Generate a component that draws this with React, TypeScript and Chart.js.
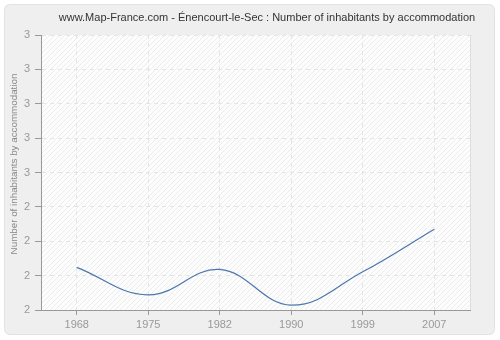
import React, { useEffect, useRef } from "react";
import { Chart, registerables } from "chart.js";

Chart.register(...registerables);

const years = ["1968", "1975", "1982", "1990", "1999", "2007"];
const inhabitants = [2.224, 2.144, 2.218, 2.114, 2.211, 2.335];
const yTickLabels = ["2", "2", "2", "2", "3", "3", "3", "3", "3"];
const titleText = "www.Map-France.com - Énencourt-le-Sec : Number of inhabitants by accommodation";
const yAxisTitle = "Number of inhabitants by accommodation";

const FONT = "'Liberation Sans', Arial, sans-serif";

function makePattern(ctx: CanvasRenderingContext2D) {
  const c = document.createElement("canvas");
  c.width = 5;
  c.height = 5;
  const p = c.getContext("2d")!;
  p.fillStyle = "#fdfdfd";
  p.fillRect(0, 0, 5, 5);
  p.strokeStyle = "#ececec";
  p.lineWidth = 1;
  p.beginPath();
  p.moveTo(0, 5);
  p.lineTo(5, 0);
  p.moveTo(-2.5, 2.5);
  p.lineTo(2.5, -2.5);
  p.moveTo(2.5, 7.5);
  p.lineTo(7.5, 2.5);
  p.stroke();
  return ctx.createPattern(c, "repeat");
}

const decor = {
  id: "decor",
  beforeDraw(chart: any) {
    const { ctx, chartArea: a } = chart;
    ctx.save();
    ctx.fillStyle = "#ffffff";
    ctx.fillRect(0, 0, chart.width, chart.height);
    const x = 4.5, y = 4.5, w = 490, h = 330, r = 6;
    ctx.beginPath();
    ctx.moveTo(x + r, y);
    ctx.lineTo(x + w - r, y);
    ctx.quadraticCurveTo(x + w, y, x + w, y + r);
    ctx.lineTo(x + w, y + h - r);
    ctx.quadraticCurveTo(x + w, y + h, x + w - r, y + h);
    ctx.lineTo(x + r, y + h);
    ctx.quadraticCurveTo(x, y + h, x, y + h - r);
    ctx.lineTo(x, y + r);
    ctx.quadraticCurveTo(x, y, x + r, y);
    ctx.closePath();
    ctx.fillStyle = "#efefef";
    ctx.fill();
    ctx.strokeStyle = "#e2e2e2";
    ctx.lineWidth = 1;
    ctx.stroke();
    const pat = makePattern(ctx);
    ctx.fillStyle = pat || "#fcfcfc";
    ctx.fillRect(a.left, a.top, a.right - a.left, a.bottom - a.top);
    ctx.strokeStyle = "#dddddd";
    ctx.beginPath();
    ctx.moveTo(a.right + 0.5, a.top);
    ctx.lineTo(a.right + 0.5, a.bottom);
    ctx.stroke();
    ctx.restore();
  },
  afterDraw(chart: any) {
    const { ctx } = chart;
    ctx.save();
    ctx.fillStyle = "#333333";
    ctx.font = `11px ${FONT}`;
    ctx.textAlign = "center";
    ctx.textBaseline = "middle";
    ctx.fillText(titleText, 267, 18);
    ctx.translate(14, 164);
    ctx.rotate(-Math.PI / 2);
    ctx.font = `9.8px ${FONT}`;
    ctx.fillStyle = "#888888";
    ctx.fillText(yAxisTitle, 0, 0);
    ctx.restore();
  },
};

export default function App() {
  const ref = useRef<HTMLCanvasElement>(null);
  useEffect(() => {
    const chart = new Chart(ref.current!, {
      type: "line",
      data: {
        labels: years,
        datasets: [
          {
            data: inhabitants,
            borderColor: "#4a77ae",
            borderWidth: 1.2,
            pointRadius: 0,
            tension: 0.4,
            fill: false,
          },
        ],
      },
      options: {
        animation: false,
        responsive: false,
        events: [],
        layout: { padding: { left: 0, top: 35, right: 30, bottom: 0 } },
        plugins: { legend: { display: false }, tooltip: { enabled: false }, title: { display: false } },
        scales: {
          x: {
            type: "category",
            offset: true,
            grid: { color: "#e4e4e4", tickColor: "#999999", tickLength: 5, offset: false },
            border: { display: true, color: "#999999", width: 1, dash: [4, 4] },
            ticks: { color: "#999999", font: { family: FONT, size: 11 }, padding: 3, maxRotation: 0 },
            afterFit: (s: any) => { s.height = 30; },
          },
          y: {
            min: 2.1,
            max: 2.9,
            grid: { color: "#e4e4e4", tickColor: "#999999", tickLength: 6 },
            border: { display: true, color: "#999999", width: 1, dash: [4, 4] },
            ticks: {
              stepSize: 0.1,
              color: "#999999",
              font: { family: FONT, size: 11 },
              padding: 5,
              callback: (_v: any, i: number) => yTickLabels[i],
            },
            afterFit: (s: any) => { s.width = 41; },
          },
        },
      },
      plugins: [decor],
    });
    return () => chart.destroy();
  }, []);
  return (
    <div style={{ position: "absolute", left: 0, top: 0, width: 500, height: 340 }}>
      <canvas ref={ref} width={500} height={340} style={{ display: "block" }} />
    </div>
  );
}
